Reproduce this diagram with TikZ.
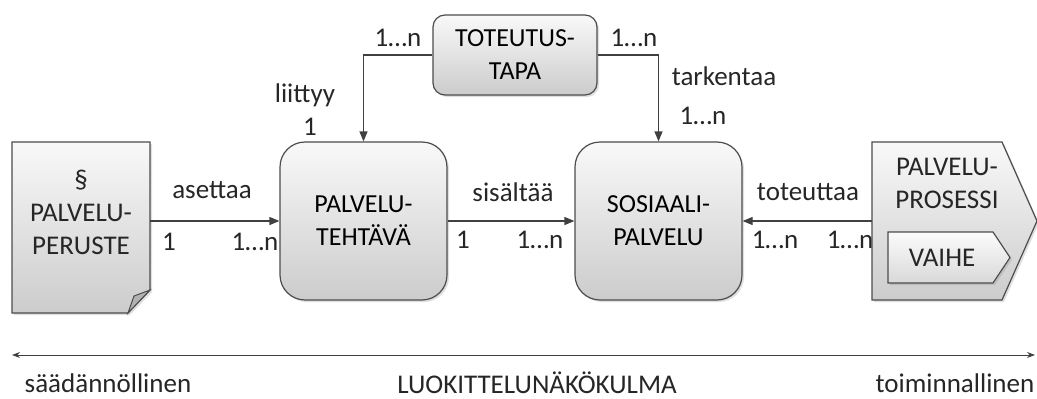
\documentclass[tikz,border=0pt]{standalone}
\usepackage{fontspec}
\setmainfont{Carlito}
\usetikzlibrary{arrows.meta,shadows}

\begin{document}
\begin{tikzpicture}[x=1pt, y=-1pt,
    laatikko/.style={draw=black!70, line width=1.2pt, rounded corners=25pt, top color=gray!5, bottom color=gray!40,
        align=center, font=\fontsize{26}{33}\selectfont,
        drop shadow={opacity=0.25, shadow xshift=2pt, shadow yshift=-2pt}},
    teksti/.style={font=\fontsize{27}{33}\selectfont, text=black!85, align=center, inner sep=1pt},
    nuoli/.style={draw=black!75, line width=1.2pt, -{Triangle[length=10pt,width=8pt]}}]

    % Set page size
    \useasboundingbox (0,0) rectangle (1037,399);

    % Edge labels
    \node[teksti] (asettaa) at (212,190) {asettaa};
    \node[teksti] (ase1) at (169,242) {1};
    \node[teksti] (ase2) at (255,242) {1…n};
    \node[teksti] (sisaltaa) at (513,192) {sisältää};
    \node[teksti] (sis1) at (463,240) {1};
    \node[teksti] (sis2) at (540,240) {1…n};
    \node[teksti] (toteuttaa) at (808,192) {toteuttaa};
    \node[teksti] (tot1) at (775,240) {1…n};
    \node[teksti] (tot2) at (850,240) {1…n};
    \node[teksti] (tapa1) at (398,38) {1…n};
    \node[teksti] (tapa2) at (634,38) {1…n};
    \node[teksti] (liittyy) at (305,95) {liittyy};
    \node[teksti] (liit1) at (310,127) {1};
    \node[teksti] (tarkentaa) at (724,76) {tarkentaa};
    \node[teksti] (tark1) at (703,116) {1…n};

    % Document
    \path[laatikko, sharp corners] (12,142) -- (150,142) -- (150,290) -- (128,313) -- (12,313) -- cycle;
    \filldraw[fill=gray!60, draw=black!70, line width=1pt] (150,290) -- (128,313) -- (134,296) -- cycle; % fold
    \node[teksti] (peruste) at (81,212) {§\\PALVELU-\\PERUSTE};
    \coordinate (perusteoik) at (150,221);

    % Rounded boxes
    \node[laatikko, minimum width=167pt, minimum height=158pt] (tehtava) at (363.5,221) {PALVELU-\\TEHTÄVÄ};
    \node[laatikko, minimum width=167pt, minimum height=158pt] (sosiaali) at (658.5,221) {SOSIAALI-\\PALVELU};
    \node[laatikko, rounded corners=12pt, minimum width=164pt, minimum height=80pt] (tapa) at (515,55) {TOTEUTUS-\\TAPA};

    % Process arrow
    \path[laatikko, sharp corners] (872,142) -- (1002,142) -- (1037,221) -- (1002,300) -- (872,300) -- cycle;
    \node[teksti] (prosessi) at (947,183) {PALVELU-\\PROSESSI};
    \coordinate (prosessivas) at (872,221);
    \path[laatikko, sharp corners, top color=gray!3, bottom color=gray!30] (888,232) -- (993,232) -- (1010,257.5) -- (993,283) -- (888,283) -- cycle;
    \node[teksti] (vaihe) at (942,258) {VAIHE};

    % Connectors
    \draw[nuoli] (perusteoik) -- (tehtava.west);
    \draw[nuoli] (tehtava.east) -- (sosiaali.west);
    \draw[nuoli] (prosessivas) -- (sosiaali.east);
    \draw[nuoli] (tapa.west) -| (tehtava.north);
    \draw[nuoli] (tapa.east) -| (sosiaali.north);

    % Bottom scale
    \coordinate (vasen) at (12,355);
    \coordinate (oikea) at (1035,355);
    \draw[black!75, line width=1pt, {Stealth[length=8pt,width=6pt]}-{Stealth[length=8pt,width=6pt]}] (vasen) -- (oikea);
    \node[teksti] (saadannollinen) at (108,383) {säädännöllinen};
    \node[teksti] (kulma) at (537,383) {LUOKITTELUNÄKÖKULMA};
    \node[teksti] (toiminnallinen) at (955,383) {toiminnallinen};
\end{tikzpicture}
\end{document}
